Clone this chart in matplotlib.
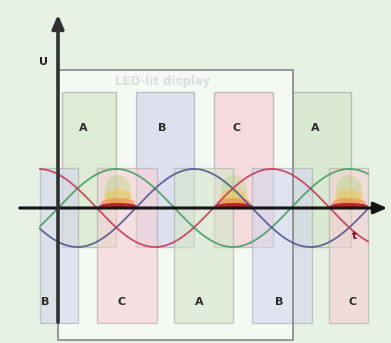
import numpy as np
import matplotlib
matplotlib.use("Agg")
import matplotlib.pyplot as plt
from matplotlib.patches import Rectangle, Ellipse

# phase blocks (pixel positions of the schematic)
top_labels = ["A", "B", "C", "A"]
top_left = [62, 136, 214, 293]
top_right = [116, 194, 273, 351]
top_text_x = [83, 162, 237, 315]
bottom_labels = ["B", "C", "A", "B", "C"]
bottom_left = [40, 97, 174, 252, 329]
bottom_right = [78, 157, 233, 312, 368]
bottom_text_x = [45, 122, 199, 279, 353]

phase_colors = {"A": "#d5e6c9", "B": "#d3d6ee", "C": "#f5cfd4"}

# three phase waves: name, colour, phase offset (degrees)
wave_names = ["A", "B", "C"]
wave_colors = ["#3f9a5c", "#4b4f8f", "#c23350"]
wave_shift = [0, -120, 120]

glow_x = [118, 234, 349]

W, H = 391, 343
x0, y0 = 58, 208          # origin of the U / t axes
period, amp = 233, 39

fig = plt.figure(figsize=(W / 100, H / 100), dpi=100)
fig.patch.set_facecolor("#e7f1e4")
ax = fig.add_axes([0, 0, 1, 1])
ax.set_xlim(0, W)
ax.set_ylim(H, 0)
ax.axis("off")

# display frame
ax.add_patch(Rectangle((58, 70), 235, 270, facecolor="white", alpha=0.6,
                       edgecolor="none", zorder=1))
ax.text(163, 82, "LED-lit display", color="#dcdcdc", fontsize=8.5,
        fontweight="bold", ha="center", va="center", zorder=2)

for lab, l, r, tx in zip(top_labels, top_left, top_right, top_text_x):
    ax.add_patch(Rectangle((l, 92), r - l, 155, facecolor=phase_colors[lab],
                           alpha=0.7, edgecolor="#aaaaaa", lw=1, zorder=2))
    ax.text(tx, 128, lab, fontsize=8, fontweight="bold",
            color="#2a2a2a", ha="center", va="center", zorder=6)

for lab, l, r, tx in zip(bottom_labels, bottom_left, bottom_right, bottom_text_x):
    ax.add_patch(Rectangle((l, 168), r - l, 155, facecolor=phase_colors[lab],
                           alpha=0.6, edgecolor="#aaaaaa", lw=1, zorder=2))
    ax.text(tx, 302, lab, fontsize=8, fontweight="bold",
            color="#2a2a2a", ha="center", va="center", zorder=6)

ax.add_patch(Rectangle((58, 70), 235, 270, facecolor="none",
                       edgecolor="#8f8f8f", lw=1.3, zorder=3))

# glowing spots on the axis (layered soft ellipses)
for gx in glow_x:
    ax.add_patch(Ellipse((gx, 190), 26, 30, facecolor="#9fd060", alpha=0.3,
                         edgecolor="none", zorder=3))
    ax.add_patch(Ellipse((gx, 198), 28, 18, facecolor="#f2c440", alpha=0.45,
                         edgecolor="none", zorder=3))
    ax.add_patch(Ellipse((gx, 203), 34, 10, facecolor="#f07a3a", alpha=0.5,
                         edgecolor="none", zorder=4))
    ax.add_patch(Ellipse((gx, 206), 38, 6, facecolor="#b0101e", alpha=0.85,
                         edgecolor="none", zorder=4))

xs = np.linspace(40, 368, 400)
theta = (xs - x0) / period * 2 * np.pi
for name, col, sh in zip(wave_names, wave_colors, wave_shift):
    ax.plot(xs, y0 - amp * np.sin(theta + np.deg2rad(sh)), color=col,
            lw=1.3, alpha=0.85, zorder=5)

# axes arrows
ax.annotate("", xy=(390, y0), xytext=(17, y0),
            arrowprops=dict(arrowstyle="-|>,head_length=0.8,head_width=0.35",
                            color="#151515", lw=2.2), zorder=7)
ax.annotate("", xy=(x0, 12), xytext=(x0, 325),
            arrowprops=dict(arrowstyle="-|>,head_length=0.8,head_width=0.35",
                            color="#303030", lw=2.6), zorder=7)
ax.text(43, 62, "U", fontsize=8, fontweight="bold", color="#222222",
        ha="center", va="center", zorder=7)
ax.text(354, 236, "t", fontsize=8, fontweight="bold", color="#7a1020",
        ha="center", va="center", zorder=7)

fig.savefig("out.png", dpi=100, facecolor=fig.get_facecolor())
